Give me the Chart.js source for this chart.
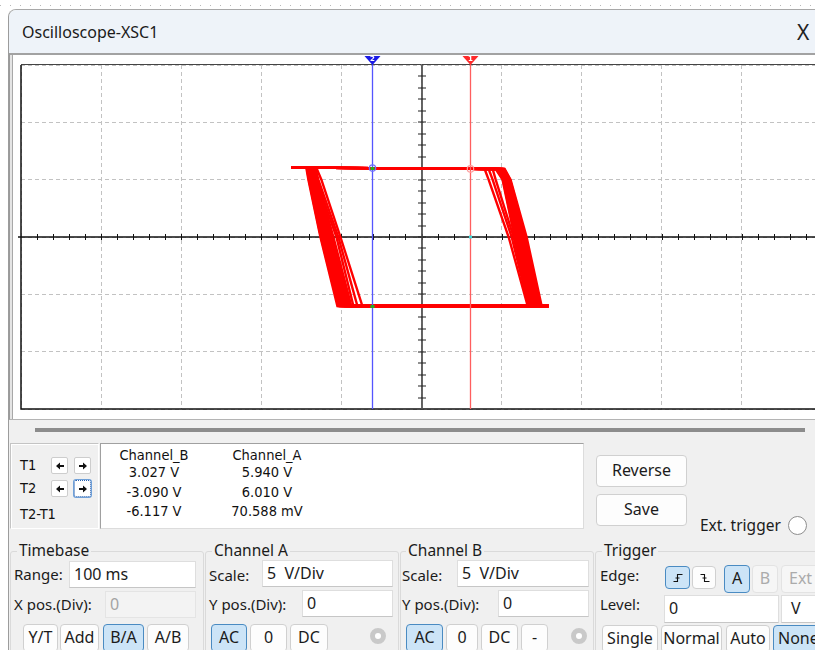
<!DOCTYPE html>
<html>
<head>
<meta charset="utf-8">
<title>Oscilloscope-XSC1</title>
<script src="https://cdn.jsdelivr.net/npm/chart.js@4.4.1/dist/chart.umd.min.js"></script>
<style>
  html, body { margin:0; padding:0; width:815px; height:650px; overflow:hidden; background:#fff; }
  body { position:relative; font-family:"Noto Sans","Open Sans",sans-serif; color:#1b1b1b; }
  .a { position:absolute; box-sizing:border-box; }
  .t { position:absolute; white-space:pre; font-size:15px; line-height:20px; }
  .cond { font-family:"DejaVu Sans Condensed","DejaVu Sans","Liberation Sans Narrow",sans-serif; font-stretch:condensed; font-size:14.5px; color:#111; }
  .col { position:absolute; width:120px; text-align:center; }
  .btn { position:absolute; box-sizing:border-box; height:28px; border:1px solid #d0d0d0; border-radius:4px; background:#fdfdfd; text-align:center; font-size:16px; line-height:25px; white-space:pre; }
  .btn.on { background:#cce4f7; border-color:#4a8bc2; }
  .btn.off { color:#ababab; background:#f6f6f6; border-color:#e3e3e3; }
  .inp { position:absolute; box-sizing:border-box; background:#fff; border:1px solid #dedede; border-bottom-color:#c6c6c6; font-size:16px; line-height:24px; padding-left:4px; white-space:pre; }
  .inp.dis { background:#f3f3f3; color:#a3a3a3; border-color:#e4e4e4; }
  .grp { position:absolute; box-sizing:border-box; border:1px solid #dadada; border-radius:3px; height:130px; }
  .legend { position:absolute; background:#f0f0f0; padding:0 2px; font-size:15.5px; line-height:20px; white-space:pre; }
  .arr { position:absolute; box-sizing:border-box; width:17px; height:17px; background:#fff; border:1px solid #cdcdcd; border-radius:2px; }
  .arr svg { position:absolute; left:3px; top:3px; }
  #plot { position:absolute; left:0; top:0; pointer-events:none; }
</style>
</head>
<body>
<!-- desktop strip above the window -->
<div class="a" style="left:0;top:5px;width:815px;height:1px;background:repeating-linear-gradient(90deg,#b8b8b8 0 1px,transparent 1px 10px);"></div>

<!-- window body and title bar -->
<div class="a" style="left:8px;top:9px;width:830px;height:660px;background:#f0f0f0;border-left:1px solid #9c9c9c;border-top:1px solid #a8a8a8;border-top-left-radius:8px;"></div>
<div class="a" style="left:9px;top:10px;width:830px;height:43px;background:#eef3f9;border-top-left-radius:7px;"></div>
<div class="t" style="left:22px;top:21px;font-size:16px;line-height:22px;color:#1a1a1a;">Oscilloscope-XSC1</div>
<div class="t" style="left:797px;top:19px;font-size:21px;line-height:26px;color:#222;">X</div>

<!-- screen frame -->
<div class="a" style="left:9px;top:53px;width:830px;height:367px;background:#fff;border-top:2px solid #a2a2a2;border-left:1px solid #9a9a9a;border-bottom:1px solid #b4b4b4;box-shadow:inset 2px 0 0 #e4e4e4, inset 3px 0 0 #a8a8a8;"></div>

<!-- scroll bar -->
<div class="a" style="left:35px;top:428px;width:770px;height:4px;background:#8c8c8c;"></div>

<!-- cursor step buttons -->
<div class="a" style="left:10px;top:443px;width:89px;height:86px;border:1px solid #c4c4c4;border-right-color:#fff;border-bottom-color:#fff;box-shadow:inset 1px 1px 0 #fff;"></div>
<div class="t cond" style="left:20px;top:455px;">T1</div>
<div class="t cond" style="left:20px;top:478px;">T2</div>
<div class="t cond" style="left:20px;top:504px;">T2-T1</div>
<div class="arr" style="left:51px;top:457px;"><svg width="10" height="10"><path d="M1 5 L5 1.5 L5 4 L9 4 L9 6 L5 6 L5 8.5 Z" fill="#111"/></svg></div>
<div class="arr" style="left:74px;top:457px;"><svg width="10" height="10"><path d="M9 5 L5 1.5 L5 4 L1 4 L1 6 L5 6 L5 8.5 Z" fill="#111"/></svg></div>
<div class="arr" style="left:51px;top:480px;"><svg width="10" height="10"><path d="M1 5 L5 1.5 L5 4 L9 4 L9 6 L5 6 L5 8.5 Z" fill="#111"/></svg></div>
<div class="arr" style="left:74px;top:480px;border:1px dotted #2a62b0;box-shadow:0 0 0 1px #6fa0d8;"><svg width="10" height="10"><path d="M9 5 L5 1.5 L5 4 L1 4 L1 6 L5 6 L5 8.5 Z" fill="#111"/></svg></div>

<!-- cursor readout -->
<div class="a" style="left:100px;top:443px;width:484px;height:86px;background:#fff;border:1px solid #a0a0a0;border-right-color:#dcdcdc;border-bottom-color:#dcdcdc;"></div>
<div id="readout"></div>

<div class="btn" style="left:596px;top:455px;width:91px;height:32px;line-height:29px;">Reverse</div>
<div class="btn" style="left:596px;top:494px;width:91px;height:32px;line-height:29px;">Save</div>
<div class="t" style="left:700px;top:514px;font-size:15.5px;line-height:22px;">Ext. trigger</div>
<div class="a" style="left:788px;top:516px;width:19px;height:19px;border-radius:50%;background:#fff;border:1.5px solid #8e8e8e;"></div>

<!-- control groups -->
<div class="grp" style="left:10px;top:551px;width:194px;"></div>
<div class="grp" style="left:205px;top:551px;width:194px;"></div>
<div class="grp" style="left:400px;top:551px;width:194px;"></div>
<div class="grp" style="left:595px;top:551px;width:240px;"></div>
<div class="legend" style="left:17px;top:540px;">Timebase</div>
<div class="legend" style="left:212px;top:540px;">Channel A</div>
<div class="legend" style="left:406px;top:540px;">Channel B</div>
<div class="legend" style="left:602px;top:540px;">Trigger</div>

<div class="t" style="left:14px;top:564px;">Range:</div>
<div class="inp" style="left:69px;top:561px;width:127px;height:27px;">100 ms</div>
<div class="t" style="left:14px;top:594px;">X pos.(Div):</div>
<div class="inp dis" style="left:105px;top:591px;width:91px;height:27px;">0</div>
<div class="btn" style="left:23px;top:624px;width:35px;">Y/T</div>
<div class="btn" style="left:60px;top:624px;width:39px;">Add</div>
<div class="btn on" style="left:103px;top:624px;width:41px;">B/A</div>
<div class="btn" style="left:147px;top:624px;width:42px;">A/B</div>

<div class="t" style="left:209px;top:565px;">Scale:</div>
<div class="inp" style="left:262px;top:560px;width:131px;height:27px;">5  V/Div</div>
<div class="t" style="left:209px;top:594px;">Y pos.(Div):</div>
<div class="inp" style="left:302px;top:590px;width:91px;height:27px;">0</div>
<div class="btn on" style="left:211px;top:624px;width:36px;">AC</div>
<div class="btn" style="left:250px;top:624px;width:37px;">0</div>
<div class="btn" style="left:290px;top:624px;width:38px;">DC</div>
<div class="a" style="left:370px;top:628px;width:16px;height:16px;border-radius:50%;border:5px solid #c9c9c9;background:#fff;"></div>

<div class="t" style="left:402px;top:565px;">Scale:</div>
<div class="inp" style="left:457px;top:560px;width:132px;height:27px;">5  V/Div</div>
<div class="t" style="left:402px;top:594px;">Y pos.(Div):</div>
<div class="inp" style="left:498px;top:590px;width:91px;height:27px;">0</div>
<div class="btn on" style="left:406px;top:624px;width:37px;">AC</div>
<div class="btn" style="left:446px;top:624px;width:32px;">0</div>
<div class="btn" style="left:481px;top:624px;width:37px;">DC</div>
<div class="btn" style="left:521px;top:624px;width:27px;">-</div>
<div class="a" style="left:571px;top:628px;width:16px;height:16px;border-radius:50%;border:5px solid #c9c9c9;background:#fff;"></div>

<div class="t" style="left:600px;top:565px;">Edge:</div>
<div class="btn on" style="left:665px;top:566px;width:25px;height:23px;"><svg width="12" height="12" style="position:absolute;left:6px;top:5px;"><path d="M1.5 9.5 H5.5 V2.5 H10.5 M3.5 6 H7.5" stroke="#111" stroke-width="1.1" fill="none"/></svg></div>
<div class="btn" style="left:692px;top:566px;width:24px;height:23px;"><svg width="12" height="12" style="position:absolute;left:6px;top:5px;"><path d="M1.5 2.5 H5.5 V9.5 H10.5 M3.5 6 H7.5" stroke="#111" stroke-width="1.1" fill="none"/></svg></div>
<div class="btn on" style="left:724px;top:565px;width:26px;">A</div>
<div class="btn off" style="left:752px;top:565px;width:26px;">B</div>
<div class="btn off" style="left:781px;top:565px;width:40px;text-align:left;padding-left:7px;">Ext</div>
<div class="t" style="left:600px;top:594px;">Level:</div>
<div class="inp" style="left:664px;top:595px;width:115px;height:28px;">0</div>
<div class="inp" style="left:781px;top:595px;width:40px;height:28px;padding-left:9px;">V</div>
<div class="btn" style="left:602px;top:625px;width:56px;">Single</div>
<div class="btn" style="left:661px;top:625px;width:61px;">Normal</div>
<div class="btn" style="left:726px;top:625px;width:44px;">Auto</div>
<div class="btn on" style="left:773px;top:625px;width:50px;text-align:left;padding-left:4px;">None</div>

<canvas id="plot" width="831" height="420"></canvas>

<script>
// Screen: Channel B on the horizontal axis, Channel A on the vertical axis (B/A mode), 5 V/Div each
const B_MIN = -25, B_MAX = 25;
const A_MIN = -15, A_MAX = 15;
const DIV_VOLTS = 5;
const MINOR_VOLTS = 1;

// Cursor readout (T1 red, T2 blue)
const cursorTags = ['1', '2'];
const cursorB = [3.027, -3.090];
const cursorA = [5.940, 6.010];
const cursorColors = ['#ff5e5e', '#5555ff'];
const readoutHeads = ['Channel_B', 'Channel_A'];
const readoutB = ['3.027 V', '-3.090 V', '-6.117 V'];
const readoutA = ['5.940 V', '6.010 V', '70.588 mV'];

// Saturation rails and the input sweep limits (V)
const sweepMinB = -8.13;
const sweepMaxB = 7.94;
const railHighLeftA = 6.05;
const railHighRightA = 5.93;
const railHighRiseA = 6.03;
const railLowA = -6.02;
const kneeA = 5.0;

// Falling edge of each traced cycle: B where it leaves the high rail, at A = 5 V, at A = 0 V, at the low rail
const fallTopB  = [3.94, 4.19, 4.44, 4.63, 4.69, 4.75, 4.78, 4.81, 4.84, 4.88, 4.91, 4.94, 4.97, 5.00, 5.03, 5.06, 5.09, 5.13, 5.16, 5.19];
const fallKneeB = [4.19, 4.44, 4.63, 5.06, 5.09, 5.13, 5.16, 5.19, 5.22, 5.25, 5.28, 5.31, 5.34, 5.38, 5.41, 5.44, 5.47, 5.50, 5.53, 5.56];
const fallMidB  = [5.44, 5.63, 5.75, 5.81, 5.84, 5.88, 5.94, 6.00, 6.03, 6.06, 6.09, 6.13, 6.16, 6.19, 6.25, 6.31, 6.38, 6.44, 6.50, 6.56];
const fallBotB  = [6.63, 6.69, 6.75, 6.69, 6.75, 6.81, 6.84, 6.88, 6.91, 6.94, 7.00, 7.06, 7.09, 7.13, 7.19, 7.25, 7.31, 7.38, 7.44, 7.50];

// Rising edge of each traced cycle: B where it leaves the low rail, at A = 0 V, at A = 5 V, at the high rail
const riseBotB  = [-3.69, -4.00, -4.25, -4.38, -4.44, -4.50, -4.56, -4.63, -4.69, -4.75, -4.78, -4.81, -4.88, -4.94, -5.00, -5.06, -5.09, -5.13, -5.19, -5.25];
const riseMidB  = [-5.06, -5.19, -5.31, -5.50, -5.56, -5.63, -5.69, -5.75, -5.81, -5.88, -5.91, -5.94, -6.00, -6.06, -6.09, -6.13, -6.19, -6.25, -6.28, -6.31];
const riseKneeB = [-6.25, -6.44, -6.56, -6.50, -6.56, -6.63, -6.66, -6.69, -6.72, -6.75, -6.78, -6.81, -6.84, -6.88, -6.91, -6.94, -6.97, -7.00, -7.03, -7.06];
const riseTopB  = [-6.56, -6.63, -6.69, -6.63, -6.72, -6.75, -6.78, -6.81, -6.84, -6.88, -6.91, -6.94, -6.97, -7.00, -7.03, -7.06, -7.09, -7.13, -7.16, -7.19];

// readout text, two centred columns
const readoutCenters = [154, 267];
const readoutRowTops = [445, 462, 482, 501];
const readout = document.getElementById('readout');
[[readoutHeads[0]].concat(readoutB), [readoutHeads[1]].concat(readoutA)].forEach((col, c) => {
  col.forEach((txt, r) => {
    const d = document.createElement('div');
    d.className = 't cond col';
    d.style.left = (readoutCenters[c] - 60) + 'px';
    d.style.top = readoutRowTops[r] + 'px';
    d.textContent = txt;
    readout.appendChild(d);
  });
});

// one closed path per traced cycle
const loops = fallTopB.map((_, i) => [
  { x: sweepMinB, y: railHighLeftA },
  { x: cursorB[1], y: cursorA[1] },
  { x: cursorB[0], y: cursorA[0] },
  { x: fallTopB[i], y: railHighRightA },
  { x: fallKneeB[i], y: kneeA },
  { x: fallMidB[i], y: 0 },
  { x: fallBotB[i], y: railLowA },
  { x: sweepMaxB, y: railLowA },
  { x: riseBotB[i], y: railLowA },
  { x: riseMidB[i], y: 0 },
  { x: riseKneeB[i], y: kneeA },
  { x: riseTopB[i], y: railHighRiseA },
  { x: sweepMinB, y: railHighLeftA }
]);

const screenDecor = {
  id: 'screenDecor',
  beforeDatasetsDraw(chart) {
    const { ctx, chartArea: ca, scales: { x, y } } = chart;
    const x0 = Math.round(x.getPixelForValue(0));
    const y0 = Math.round(y.getPixelForValue(0));
    ctx.save();
    // screen border
    ctx.strokeStyle = '#444';
    ctx.lineWidth = 1;
    ctx.beginPath(); ctx.moveTo(ca.left, ca.top - 0.5); ctx.lineTo(ca.right, ca.top - 0.5); ctx.stroke();
    ctx.strokeStyle = '#111';
    ctx.lineWidth = 1.5;
    ctx.beginPath(); ctx.moveTo(ca.left, ca.top); ctx.lineTo(ca.left, ca.bottom); ctx.lineTo(ca.right, ca.bottom); ctx.stroke();
    // horizontal centre axis with 1 V ticks
    ctx.strokeStyle = '#111';
    ctx.lineWidth = 1.4;
    ctx.beginPath(); ctx.moveTo(ca.left - 3, y0); ctx.lineTo(ca.right, y0); ctx.stroke();
    ctx.lineWidth = 1;
    ctx.beginPath();
    for (let v = B_MIN + MINOR_VOLTS; v < B_MAX; v += MINOR_VOLTS) {
      const px = Math.round(x.getPixelForValue(v)) + 0.5;
      ctx.moveTo(px, y0 - 3); ctx.lineTo(px, y0 + 3);
    }
    ctx.stroke();
    // vertical centre axis with 1 V ticks
    ctx.strokeStyle = '#555';
    ctx.lineWidth = 1.8;
    ctx.beginPath(); ctx.moveTo(x0, ca.top); ctx.lineTo(x0, ca.bottom); ctx.stroke();
    ctx.strokeStyle = '#222';
    ctx.lineWidth = 1.2;
    ctx.beginPath();
    for (let v = A_MIN + MINOR_VOLTS; v < A_MAX; v += MINOR_VOLTS) {
      const py = Math.round(y.getPixelForValue(v));
      ctx.moveTo(x0 - 4, py); ctx.lineTo(x0 + 4, py);
    }
    ctx.stroke();
    ctx.restore();
  },
  afterDatasetsDraw(chart) {
    const { ctx, chartArea: ca, scales: { x, y } } = chart;
    ctx.save();
    cursorB.forEach((b, i) => {
      const px = Math.round(x.getPixelForValue(b)) + 0.5;
      ctx.strokeStyle = cursorColors[i];
      ctx.lineWidth = 1.3;
      ctx.beginPath(); ctx.moveTo(px, ca.top - 8); ctx.lineTo(px, ca.bottom); ctx.stroke();
      // flag at the top of the screen
      ctx.fillStyle = i === 0 ? '#ff2a2a' : '#1a1ae6';
      ctx.beginPath();
      ctx.moveTo(px - 8, ca.top - 9); ctx.lineTo(px + 8, ca.top - 9); ctx.lineTo(px, ca.top); ctx.closePath();
      ctx.fill();
      ctx.fillStyle = '#fff';
      ctx.font = 'bold 7px "DejaVu Sans", sans-serif';
      ctx.textAlign = 'center'; ctx.textBaseline = 'middle';
      ctx.fillText(cursorTags[i], px, ca.top - 6);
      // crossing with the trace
      const py = y.getPixelForValue(cursorA[i]);
      if (i === 1) {
        ctx.fillStyle = '#22b022';
        ctx.fillRect(px - 2, py - 1, 4, 3);
        ctx.fillRect(px - 2, y.getPixelForValue(railLowA) - 1, 4, 3);
      } else {
        ctx.fillStyle = '#3fd8d8';
        ctx.fillRect(px - 1.5, y.getPixelForValue(0) - 1.5, 3, 3);
      }
      ctx.strokeStyle = i === 0 ? '#ff9a9a' : '#6f6fff';
      ctx.lineWidth = 1.2;
      ctx.beginPath(); ctx.arc(px, py, 3.2, 0, Math.PI * 2); ctx.stroke();
    });
    ctx.restore();
  }
};

new Chart(document.getElementById('plot'), {
  type: 'scatter',
  data: {
    datasets: loops.map((pts, i) => ({
      label: 'cycle ' + (i + 1),
      data: pts,
      showLine: true,
      borderColor: '#ff0000',
      borderWidth: 2.4,
      pointRadius: 0,
      tension: 0
    }))
  },
  options: {
    responsive: false,
    animation: false,
    devicePixelRatio: 1,
    layout: { padding: { left: 21, right: 9, top: 65, bottom: 11 } },
    plugins: { legend: { display: false }, tooltip: { enabled: false } },
    scales: {
      x: {
        type: 'linear', min: B_MIN, max: B_MAX,
        ticks: { stepSize: DIV_VOLTS, display: false },
        grid: { color: '#c2c2c2', lineWidth: 1, drawTicks: false },
        border: { display: false, dash: [4, 3] },
        afterFit(s) { s.height = 0; }
      },
      y: {
        type: 'linear', min: A_MIN, max: A_MAX,
        ticks: { stepSize: DIV_VOLTS, display: false },
        grid: { color: '#c2c2c2', lineWidth: 1, drawTicks: false },
        border: { display: false, dash: [4, 3] },
        afterFit(s) { s.width = 0; }
      }
    }
  },
  plugins: [screenDecor]
});
</script>
</body>
</html>
